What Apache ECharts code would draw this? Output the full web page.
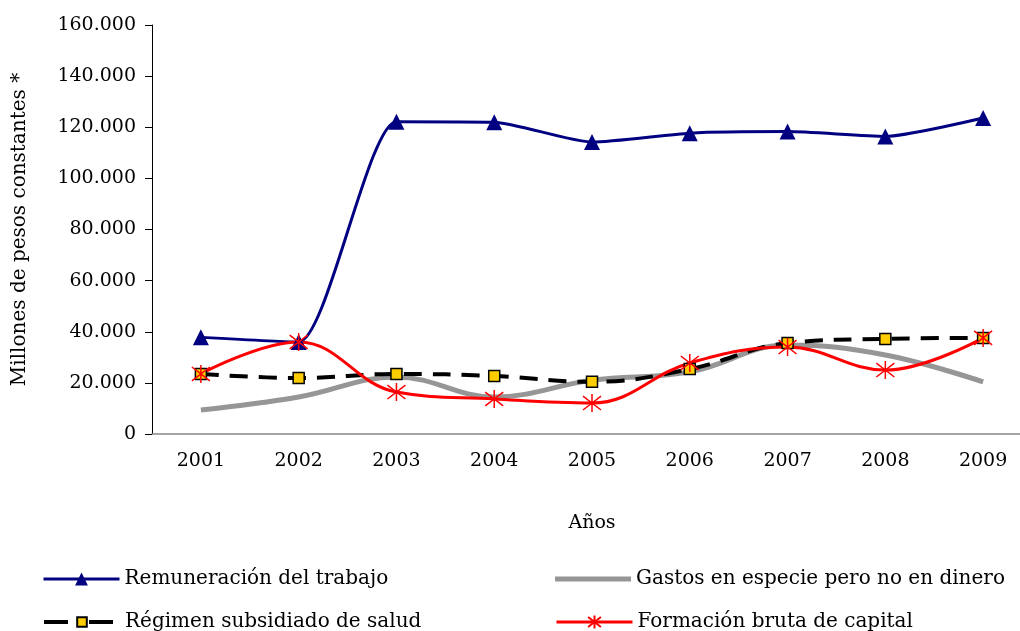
<!DOCTYPE html>
<html>
<head>
<meta charset="utf-8">
<script src="https://cdn.jsdelivr.net/npm/echarts@6/dist/echarts.min.js"></script>
<style>
  html, body { margin: 0; padding: 0; background: #fff; }
  #chart { width: 1020px; height: 631px; }
</style>
</head>
<body>
<div id="chart"></div>
<script>
var years = ['2001', '2002', '2003', '2004', '2005', '2006', '2007', '2008', '2009'];
var remuneracion = [37800, 36000, 122200, 122000, 114200, 117700, 118300, 116400, 123600];
var gastos = [9400, 14500, 22300, 14500, 21000, 24300, 34800, 30900, 20400];
var regimen = [23500, 21900, 23500, 22700, 20400, 25400, 35600, 37200, 37600];
var formacion = [23500, 36000, 16400, 13700, 12100, 27800, 34000, 25000, 37600];

var serif = 'DejaVu Serif';
var asterisk = 'path://M-1,-1L1,1M-1,1L1,-1M0,-1.3L0,1.3';

function fmt(v) {
  if (v === 0) return '0';
  return String(v).replace(/\B(?=(\d{3})+(?!\d))/g, '.');
}

function legendAt(item, left, top, line, h) {
  return {
    data: [item],
    left: left,
    top: top,
    padding: 0,
    itemWidth: 76,
    itemHeight: h || 16,
    lineStyle: line,
    textStyle: { fontFamily: serif, fontSize: 20, color: '#000' }
  };
}

var chart = echarts.init(document.getElementById('chart'));
var option = {
  backgroundColor: '#fff',
  animation: false,
  grid: { left: 152, top: 25, width: 880, height: 409, outerBoundsMode: 'none' },
  legend: [
    legendAt('Remuneración del trabajo', 42, 569, { width: 3 }),
    legendAt({ name: 'Gastos en especie pero no en dinero', icon: 'rect' }, 555, 569, null, 5),
    legendAt('Régimen subsidiado de salud', 42, 612, { width: 4, type: [24, 21] }, 12),
    legendAt('Formación bruta de capital', 555, 612, { width: 3 })
  ],
  xAxis: {
    type: 'category',
    data: years,
    boundaryGap: true,
    name: 'Años',
    nameLocation: 'middle',
    nameGap: 80,
    nameTextStyle: { fontFamily: serif, fontSize: 19, color: '#000' },
    axisLine: { lineStyle: { color: '#868686', width: 1.5 } },
    axisTick: { length: 8, lineStyle: { color: '#868686' } },
    axisLabel: { fontFamily: serif, fontSize: 19, color: '#000', margin: 18 }
  },
  yAxis: {
    type: 'value',
    min: 0,
    max: 160000,
    interval: 20000,
    name: 'Millones de pesos constantes *',
    nameLocation: 'middle',
    nameGap: 122,
    nameTextStyle: { fontFamily: serif, fontSize: 20, color: '#000' },
    axisLine: { show: true, lineStyle: { color: '#000' } },
    axisTick: { show: true, length: 7, lineStyle: { color: '#000' } },
    splitLine: { show: false },
    axisLabel: { fontFamily: serif, fontSize: 19, color: '#000', margin: 16, formatter: fmt }
  },
  series: [
    {
      name: 'Remuneración del trabajo',
      type: 'line',
      data: remuneracion,
      smooth: 0.2,
      symbol: 'triangle',
      symbolSize: 16,
      lineStyle: { color: '#000080', width: 3 },
      itemStyle: { color: '#000080' }
    },
    {
      name: 'Gastos en especie pero no en dinero',
      type: 'line',
      data: gastos,
      smooth: 0.4,
      symbol: 'none',
      lineStyle: { color: '#969696', width: 5 },
      itemStyle: { color: '#969696' }
    },
    {
      name: 'Régimen subsidiado de salud',
      type: 'line',
      data: regimen,
      smooth: 0.4,
      symbol: 'rect',
      symbolSize: 11,
      lineStyle: { color: '#000', width: 4, type: [18, 11] },
      itemStyle: { color: '#FFCC00', borderColor: '#000', borderWidth: 1.5 }
    },
    {
      name: 'Formación bruta de capital',
      type: 'line',
      data: formacion,
      smooth: 0.4,
      symbol: asterisk,
      symbolSize: 18,
      lineStyle: { color: '#FF0000', width: 3 },
      itemStyle: { color: '#FF0000', borderColor: '#FF0000', borderWidth: 1.5 }
    }
  ]
};
chart.setOption(option);
</script>
</body>
</html>
